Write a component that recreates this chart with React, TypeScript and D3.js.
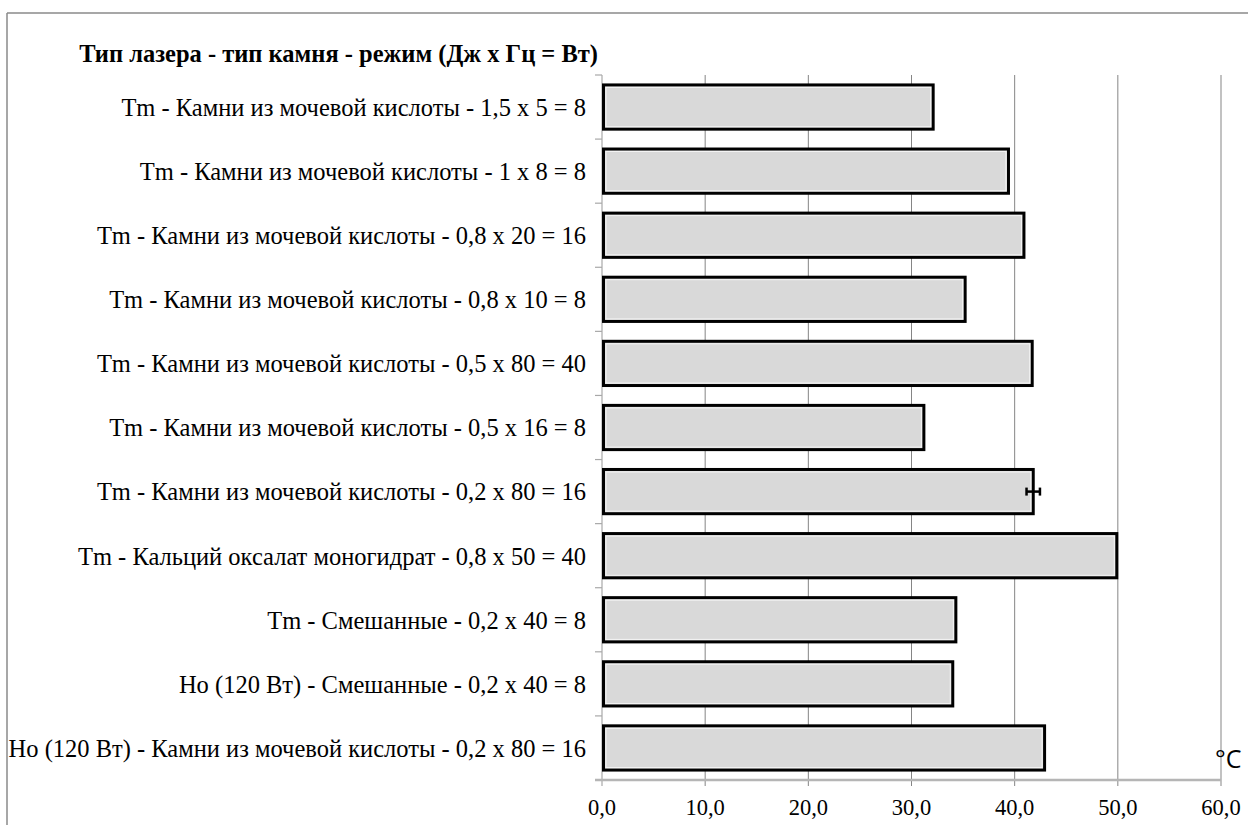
import React from "react";
import * as d3 from "d3";

// Laser type - stone type - mode (J x Hz = W)
const categories: string[] = [
  "Tm - Камни из мочевой кислоты - 1,5 x 5 = 8",
  "Tm - Камни из мочевой кислоты - 1 x 8 = 8",
  "Tm - Камни из мочевой кислоты - 0,8 x 20 = 16",
  "Tm - Камни из мочевой кислоты - 0,8 x 10 = 8",
  "Tm - Камни из мочевой кислоты - 0,5 x 80 = 40",
  "Tm - Камни из мочевой кислоты - 0,5 x 16 = 8",
  "Tm - Камни из мочевой кислоты - 0,2 x 80 = 16",
  "Tm - Кальций оксалат  моногидрат - 0,8 x 50 = 40",
  "Tm - Смешанные - 0,2 x 40 = 8",
  "Ho (120 Вт) - Смешанные - 0,2 x 40 = 8",
  "Ho (120 Вт) - Камни из мочевой кислоты - 0,2 x 80 = 16",
];

// Temperature, °C
const values: number[] = [32.1, 39.4, 40.9, 35.2, 41.7, 31.2, 41.8, 49.9, 34.3, 34.0, 42.9];

// Error half-widths (only one series point carries an error bar)
const errors: (number | null)[] = [null, null, null, null, null, null, 0.65, null, null, null, null];

const xTicks: number[] = [0, 10, 20, 30, 40, 50, 60];

const axisTitle = "Тип лазера - тип камня - режим (Дж x Гц = Вт)";
const unitLabel = "°C";

const W = 1248;
const H = 825;
const left = 602;
const right = 1221;
const top = 75;
const bottom = 780;

const serif = "'Liberation Serif', 'Times New Roman', 'DejaVu Serif', serif";
const fmt = (v: number) => v.toFixed(1).replace(".", ",");

export default function App() {
  const x = d3.scaleLinear().domain([0, 60]).range([left, right]);
  const y = d3
    .scaleBand<string>()
    .domain(categories)
    .range([top, bottom])
    .paddingInner(0.31)
    .paddingOuter(0.155);

  const step = y.step();
  const bw = y.bandwidth();
  const boundaries = d3.range(categories.length + 1).map((i) => top + i * step);

  return (
    <div style={{ position: "fixed", left: 0, top: 0 }}>
      <svg width={W} height={H} style={{ display: "block", background: "#fff" }}>
        {/* outer frame */}
        <line x1={7} y1={13} x2={W} y2={13} stroke="#8a8a8a" strokeWidth={1.5} />
        <line x1={7} y1={13} x2={7} y2={H} stroke="#8a8a8a" strokeWidth={1.5} />

        {/* vertical gridlines */}
        {xTicks.slice(1).map((t) => (
          <line
            key={"g" + t}
            x1={x(t)}
            x2={x(t)}
            y1={top}
            y2={bottom + 6}
            stroke="#858585"
            strokeWidth={1}
          />
        ))}

        {/* category axis with tick marks at band boundaries */}
        <line x1={x(0)} x2={x(0)} y1={top} y2={bottom + 6} stroke="#a8a8a8" strokeWidth={1.2} />
        {boundaries.map((b, i) => (
          <line key={"yt" + i} x1={x(0) - 7} x2={x(0)} y1={b} y2={b} stroke="#a8a8a8" strokeWidth={1.2} />
        ))}

        {/* value axis */}
        <line x1={x(0) - 7} x2={x(60)} y1={bottom} y2={bottom} stroke="#b5b5b5" strokeWidth={2.5} />

        {/* bars */}
        {categories.map((c, i) => {
          const y0 = y(c)!;
          const x0 = x(0) + 1.5;
          const x1 = x(values[i]);
          return (
            <g key={"b" + i}>
              <rect x={x0} y={y0} width={x1 - x0} height={bw} fill="#d9d9d9" stroke="#000" strokeWidth={3} />
              <rect
                x={x0 + 2.5}
                y={y0 + 2.5}
                width={x1 - x0 - 5}
                height={bw - 5}
                fill="none"
                stroke="#f4f4f4"
                strokeWidth={1}
              />
            </g>
          );
        })}

        {/* error bars */}
        {categories.map((c, i) => {
          const e = errors[i];
          if (e == null) return null;
          const cy = y(c)! + bw / 2;
          const xa = x(values[i] - e);
          const xb = x(values[i] + e);
          return (
            <g key={"e" + i} stroke="#000" strokeWidth={2.5}>
              <line x1={xa} x2={xb} y1={cy} y2={cy} />
              <line x1={xa} x2={xa} y1={cy - 4} y2={cy + 4} />
              <line x1={xb} x2={xb} y1={cy - 4} y2={cy + 4} />
            </g>
          );
        })}

        {/* category labels */}
        {categories.map((c, i) => (
          <text
            key={"l" + i}
            x={586}
            y={y(c)! + bw / 2}
            dy="0.36em"
            textAnchor="end"
            fontFamily={serif}
            fontSize={24.5}
            fill="#000"
          >
            {c}
          </text>
        ))}

        {/* value tick labels */}
        {xTicks.map((t) => (
          <text
            key={"xl" + t}
            x={x(t)}
            y={815}
            textAnchor="middle"
            fontFamily={serif}
            fontSize={22.5}
            fill="#000"
          >
            {fmt(t)}
          </text>
        ))}

        {/* titles */}
        <text x={598} y={62} textAnchor="end" fontFamily={serif} fontSize={24.5} fontWeight="bold" fill="#000">
          {axisTitle}
        </text>
        <text x={1215} y={768} fontFamily="'Open Sans', 'DejaVu Sans', sans-serif" fontSize={25} fill="#000">
          {unitLabel}
        </text>
      </svg>
    </div>
  );
}
